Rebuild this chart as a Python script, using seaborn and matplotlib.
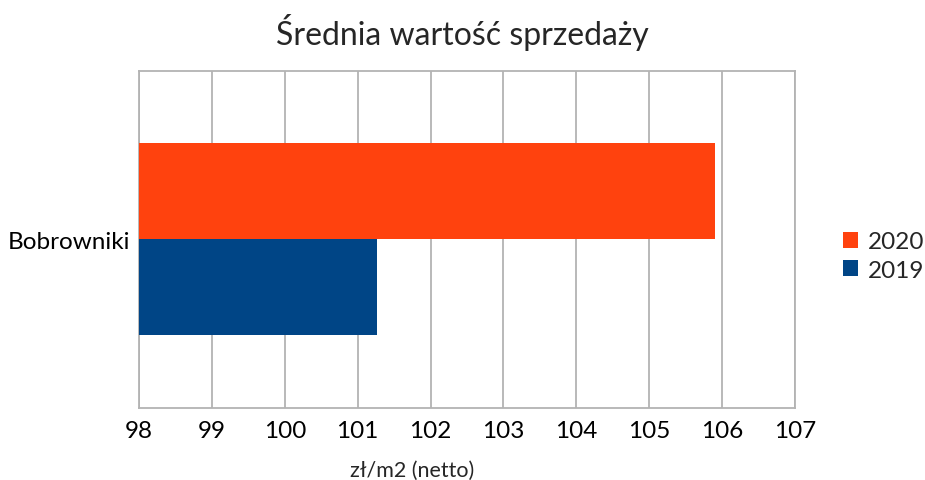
import matplotlib
matplotlib.use("Agg")
import matplotlib.pyplot as plt
import seaborn as sns
import pandas as pd

# dane z wykresu
locations = ["Bobrowniki"]
years = ["2020", "2019"]
values_2020 = [105.90]
values_2019 = [101.27]

df = pd.DataFrame({
    "miejsce": locations * 2,
    "rok": ["2020"] * len(locations) + ["2019"] * len(locations),
    "wartosc": values_2020 + values_2019,
})

sns.set_theme(style="white")
plt.rcParams["font.family"] = ["Lato", "DejaVu Sans"]

fig = plt.figure(figsize=(9.25, 4.81), dpi=100)
ax = fig.add_axes([0.1503, 0.1506, 0.7092, 0.7001])

sns.barplot(data=df, y="miejsce", x="wartosc", hue="rok", hue_order=years,
            palette=["#ff420e", "#004586"], orient="h", width=0.57,
            saturation=1, ax=ax, zorder=3, linewidth=0)

ax.set_xlim(98, 107)
ax.set_xticks(range(98, 108))
ax.xaxis.grid(True, color="#b3b3b3", linewidth=1.3, zorder=0)
ax.set_axisbelow(True)
for s in ax.spines.values():
    s.set_color("#b3b3b3")
    s.set_linewidth(1.3)
ax.tick_params(axis="x", length=0, labelsize=17.5, colors="black", pad=9)
ax.tick_params(axis="y", length=0, labelsize=17.5, colors="black", pad=6)
ax.set_xlabel("")
ax.set_ylabel("")

fig.suptitle("Średnia wartość sprzedaży", fontsize=23, y=0.97)
fig.text(412 / 925, 0.0, "zł/m2 (netto)", fontsize=15.5, ha="center", va="bottom")

ax.legend(loc="center left", bbox_to_anchor=(1.04, 0.45), frameon=False,
          fontsize=17.5, handlelength=0.6, handleheight=0.6, handletextpad=0.4,
          labelspacing=0.3, title=None)

fig.savefig("out.png", dpi=100)
